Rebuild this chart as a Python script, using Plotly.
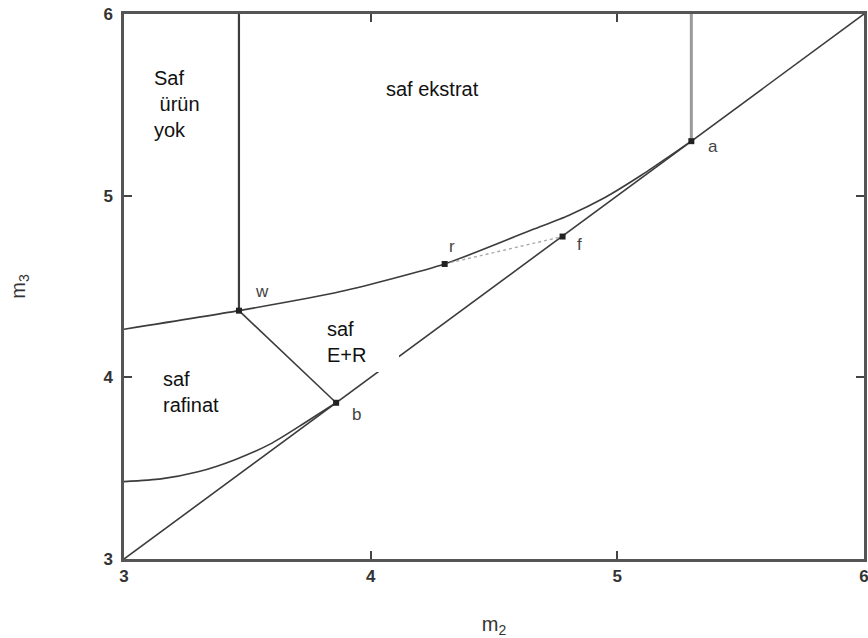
import plotly.graph_objects as go

# ---- data ----
diag_m2 = [3.0, 6.0]
diag_m3 = [3.0, 6.0]

upper_m2 = [3.0, 3.466, 3.878, 4.30, 4.659, 4.80, 4.95, 5.10, 5.20, 5.30]
upper_m3 = [4.265, 4.367, 4.472, 4.624, 4.815, 4.89, 4.99, 5.115, 5.207, 5.30]

lower_m2 = [3.0, 3.15, 3.30, 3.45, 3.60, 3.73, 3.86]
lower_m3 = [3.426, 3.441, 3.480, 3.547, 3.638, 3.747, 3.86]

point_names = ["w", "r", "f", "a", "b"]
point_m2 = [3.466, 4.30, 4.778, 5.30, 3.86]
point_m3 = [4.367, 4.624, 4.775, 5.30, 3.86]
label_dm2 = [0.093, 0.028, 0.07, 0.089, 0.083]
label_dm3 = [0.108, 0.095, -0.046, -0.03, -0.067]

region_texts = ["Saf<br> ürün<br>yok", "saf ekstrat", "saf<br>E+R", "saf<br>rafinat"]
region_m2 = [3.1135, 4.2525, 3.815, 3.150]
region_m3 = [5.502, 5.589, 4.192, 3.920]
region_anchor = ["left", "center", "left", "left"]

tick_vals = [3, 4, 5, 6]
tick_text = ["3", "4", "5", "6"]

FONT = "Liberation Sans, Arial, sans-serif"
DARK = "#3c3c3c"

fig = go.Figure()

# diagonal m3 = m2
fig.add_trace(go.Scatter(x=diag_m2, y=diag_m3, mode="lines",
                         line=dict(color=DARK, width=1.6), hoverinfo="skip"))
# upper boundary curve
fig.add_trace(go.Scatter(x=upper_m2, y=upper_m3, mode="lines",
                         line=dict(color=DARK, width=1.6, shape="spline", smoothing=0.6),
                         hoverinfo="skip"))
# lower boundary curve
fig.add_trace(go.Scatter(x=lower_m2, y=lower_m3, mode="lines",
                         line=dict(color=DARK, width=1.6, shape="spline", smoothing=0.6),
                         hoverinfo="skip"))
w_i, r_i, f_i, a_i, b_i = 0, 1, 2, 3, 4
# vertical line from w to top
fig.add_trace(go.Scatter(x=[point_m2[w_i], point_m2[w_i]], y=[point_m3[w_i], 6.0], mode="lines",
                         line=dict(color=DARK, width=2.2), hoverinfo="skip"))
# vertical line from a to top
fig.add_trace(go.Scatter(x=[point_m2[a_i], point_m2[a_i]], y=[point_m3[a_i], 6.0], mode="lines",
                         line=dict(color="#9a9a9a", width=3), hoverinfo="skip"))
# w-b line
fig.add_trace(go.Scatter(x=[point_m2[w_i], point_m2[b_i]], y=[point_m3[w_i], point_m3[b_i]], mode="lines",
                         line=dict(color=DARK, width=1.6), hoverinfo="skip"))
# r-f dotted line
fig.add_trace(go.Scatter(x=[point_m2[r_i], point_m2[f_i]], y=[point_m3[r_i], point_m3[f_i]], mode="lines",
                         line=dict(color="#aaaaaa", width=1.4, dash="dot"), hoverinfo="skip"))
# point markers
fig.add_trace(go.Scatter(x=point_m2, y=point_m3, mode="markers",
                         marker=dict(symbol="square", size=6, color="#222222"),
                         hoverinfo="skip"))

# white box behind "saf E+R" that interrupts the diagonal
fig.add_shape(type="rect", x0=3.766, x1=4.115, y0=4.03, y1=4.371,
              xref="x", yref="y", fillcolor="white", line=dict(width=0), layer="above")

for n, x, y, dx, dy in zip(point_names, point_m2, point_m3, label_dm2, label_dm3):
    fig.add_annotation(x=x + dx, y=y + dy, text=n, showarrow=False,
                       font=dict(family=FONT, size=17, color="#444444"),
                       xanchor="center", yanchor="middle")

for t, x, y, anc in zip(region_texts, region_m2, region_m3, region_anchor):
    fig.add_annotation(x=x, y=y, text=t, showarrow=False, align="left",
                       font=dict(family=FONT, size=20, color="#111111"),
                       xanchor=anc, yanchor="middle")

axis_common = dict(
    range=[3, 6], tickvals=tick_vals, ticktext=tick_text,
    ticks="inside", ticklen=8, tickwidth=2, tickcolor="#444444",
    showline=True, linecolor="#555555", linewidth=2.5, mirror="ticks",
    showgrid=False, zeroline=False, ticklabeloverflow="allow",
    tickfont=dict(family=FONT, size=17, color="#333333", weight="bold"),
)

fig.update_layout(
    width=868, height=638,
    margin=dict(l=124, r=4, t=14, b=79),
    paper_bgcolor="white", plot_bgcolor="white",
    showlegend=False,
    xaxis=dict(**axis_common,
               title=dict(text="m<sub>2</sub>", font=dict(family=FONT, size=20, color="#333333"),
                          standoff=34)),
    yaxis=dict(**axis_common, ticklabelstandoff=5,
               title=dict(text="m<sub>3</sub>", font=dict(family=FONT, size=20, color="#333333"),
                          standoff=73)),
)
fig.update_xaxes(automargin=False)
fig.update_yaxes(automargin=False)

fig.write_html("out.html")
